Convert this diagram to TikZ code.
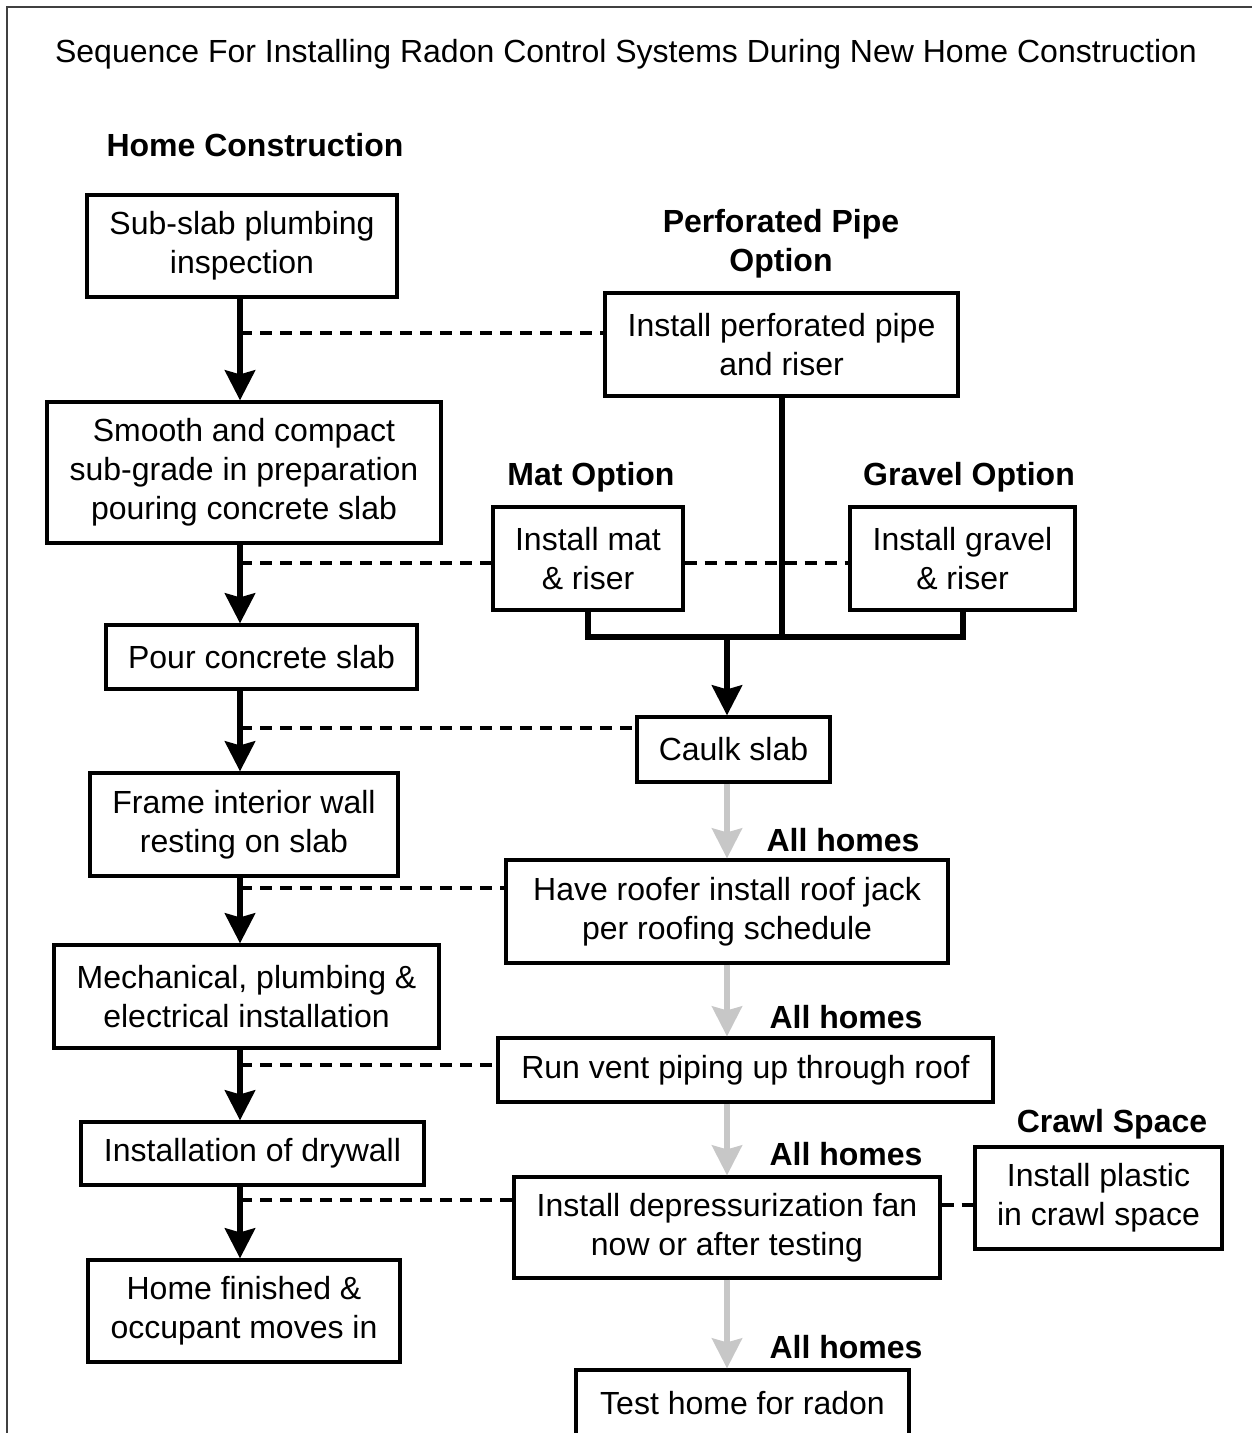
\documentclass[tikz,border=0pt]{standalone}
\usepackage{fontspec}
\setmainfont{Liberation Sans}
\usepackage{tikz}
\usetikzlibrary{arrows.meta}

\begin{document}
\begin{tikzpicture}[line cap=butt,line join=miter,>={Stealth[length=15pt,width=15pt,inset=2pt]},x=0.5pt,y=-0.5pt,
  txt/.style={font=\fontsize{16}{19.4}\selectfont,align=center,inner sep=2pt},
  head/.style={txt,font=\fontsize{16}{19.4}\selectfont\bfseries},
  box/.style={txt,draw,line width=1.6pt},
  thickarrow/.style={line width=3pt,->},
  thickline/.style={line width=3pt},
  grayarrow/.style={line width=2.6pt,color=black!22,->},
  dashline/.style={line width=1.6pt,dash pattern=on 6pt off 4pt}]
\useasboundingbox (0,0) rectangle (1252,1433);

\draw [line width=1pt,black!75] (7,1433)-- (7,7)-- (1252,7);

\node[txt] (title) at (626,54) {Sequence For Installing Radon Control Systems During New Home Construction};

% headings
\node[head] (hHome) at (255,145) {Home Construction};
\node[head] (hPerf) at (781,244) {Perforated Pipe\\Option};
\node[head] (hMat) at (591,477) {Mat Option};
\node[head] (hGravel) at (969,477) {Gravel Option};
\node[head] (hCrawl) at (1112,1124) {Crawl Space};
\node[head] (all1) at (843,840) {All homes};
\node[head] (all2) at (846,1017) {All homes};
\node[head] (all3) at (846,1154) {All homes};
\node[head] (all4) at (846,1347) {All homes};

% home construction
\node[box,minimum width=155pt,minimum height=51pt] (inspect) at (242,246) {Sub-slab plumbing\\inspection};
\node[box,minimum width=197pt,minimum height=70.5pt] (subgrade) at (244,472.5) {Smooth and compact\\sub-grade in preparation\\pouring concrete slab};
\node[box,minimum width=155.5pt,minimum height=32pt] (pour) at (261.5,657) {Pour concrete slab};
\node[box,minimum width=154pt,minimum height=51.5pt] (frame) at (244,824.5) {Frame interior wall\\resting on slab};
\node[box,minimum width=192.5pt,minimum height=51.5pt] (mech) at (246.5,996.5) {Mechanical, plumbing \&\\electrical installation};
\node[box,minimum width=171.5pt,minimum height=31.5pt] (drywall) at (252.5,1153.5) {Installation of drywall};
\node[box,minimum width=156pt,minimum height=51pt] (finish) at (244,1311) {Home finished \&\\occupant moves in};

% radon steps
\node[box,minimum width=176.5pt,minimum height=51.5pt] (perfpipe) at (781.5,344.5) {Install perforated pipe\\and riser};
\node[box,minimum width=95pt,minimum height=51.5pt] (mat) at (588,558.5) {Install mat\\\& riser};
\node[box,minimum width=112.5pt,minimum height=51.5pt] (gravel) at (962.5,558.5) {Install gravel\\\& riser};
\node[box,minimum width=96.5pt,minimum height=32.5pt] (caulk) at (733.5,749.5) {Caulk slab};
\node[box,minimum width=221pt,minimum height=51.5pt] (roofer) at (727,911.5) {Have roofer install roof jack\\per roofing schedule};
\node[box,minimum width=247.5pt,minimum height=32pt] (vent) at (745.5,1070) {Run vent piping up through roof};
\node[box,minimum width=213pt,minimum height=50.5pt] (fan) at (727,1227.5) {Install depressurization fan\\now or after testing};
\node[box,minimum width=166.5pt,minimum height=33pt] (test) at (742.5,1403) {Test home for radon};
\node[box,minimum width=123.5pt,minimum height=51pt] (plastic) at (1098.5,1198) {Install plastic\\in crawl space};

\coordinate (spine) at (240,0);
\coordinate (joint) at (727,637);

\draw[thickarrow] (inspect.south -| spine)-- (subgrade.north -| spine);
\draw[thickarrow] (subgrade.south -| spine)-- (pour.north -| spine);
\draw[thickarrow] (pour.south -| spine)-- (frame.north -| spine);
\draw[thickarrow] (frame.south -| spine)-- (mech.north -| spine);
\draw[thickarrow] (mech.south -| spine)-- (drywall.north -| spine);
\draw[thickarrow] (drywall.south -| spine)-- (finish.north -| spine);

\draw[thickline] (perfpipe.south)-- (perfpipe.south |- joint);
\draw[thickline] (mat.south)|- (joint)-| (gravel.south);
\draw[thickarrow] (joint)-- (caulk.north -| joint);

\draw[grayarrow] (caulk.south -| joint)-- (roofer.north -| joint);
\draw[grayarrow] (roofer.south -| joint)-- (vent.north -| joint);
\draw[grayarrow] (vent.south -| joint)-- (fan.north -| joint);
\draw[grayarrow] (fan.south -| joint)-- (test.north -| joint);

\coordinate (d1) at (240,333);
\coordinate (d2) at (240,563);
\coordinate (d3) at (240,728);
\coordinate (d4) at (240,888);
\coordinate (d5) at (240,1065);
\coordinate (d6) at (240,1200);
\coordinate (d7) at (940,1205);
\draw[dashline] (d1)-- (d1 -| perfpipe.west);
\draw[dashline] (d2)-- (d2 -| mat.west);
\draw[dashline] (mat.east |- d2)-- (gravel.west |- d2);
\draw[dashline] (d3)-- (d3 -| caulk.west);
\draw[dashline] (d4)-- (d4 -| roofer.west);
\draw[dashline] (d5)-- (d5 -| vent.west);
\draw[dashline] (d6)-- (d6 -| fan.west);
\draw[dashline] (d7 -| fan.east)-- (d7 -| plastic.west);
\end{tikzpicture}
\end{document}
